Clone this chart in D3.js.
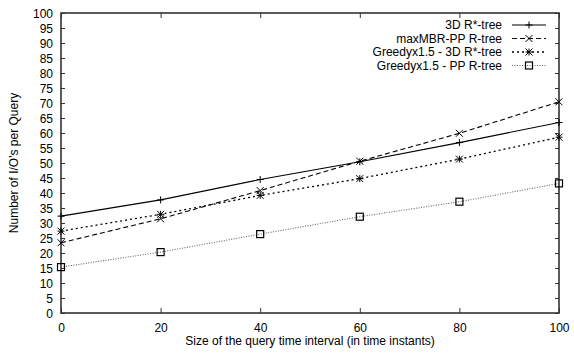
<!DOCTYPE html>
<html><head><meta charset="utf-8">
<script src="https://cdn.jsdelivr.net/npm/d3@7"></script>
<style>body{margin:0;background:#fff}svg{display:block}text{font-family:"Liberation Sans",Arial,sans-serif;font-size:12px;fill:#000}</style>
</head><body><svg id="c" width="574" height="356"></svg>
<script>
const xValues = [0, 20, 40, 60, 80, 100];
const seriesNames = ["3D R*-tree", "maxMBR-PP R-tree", "Greedyx1.5 - 3D R*-tree", "Greedyx1.5 - PP R-tree"];
const rstar3D = [32.3, 37.7, 44.5, 50.4, 56.8, 63.5];
const maxMBR = [23.4, 31.4, 40.8, 50.6, 59.9, 70.4];
const greedy3D = [27.3, 32.9, 39.2, 44.8, 51.3, 58.6];
const greedyPP = [15.3, 20.3, 26.3, 32.1, 37.1, 43.2];
const xTicks = [0, 20, 40, 60, 80, 100];
const yTicks = d3.range(0, 101, 5);
const xLabel = "Size of the query time interval (in time instants)";
const yLabel = "Number of I/O's per Query";

const svg = d3.select("#c");
const L = 61, R = 559, T = 13, B = 313;
const x = d3.scaleLinear().domain([0, 100]).range([L, R]);
const y = d3.scaleLinear().domain([0, 100]).range([B, T]);

const styles = [
  {dash: null, color: "#000", w: 1.1, marker: "plus"},
  {dash: "5,3", color: "#000", w: 1.1, marker: "cross"},
  {dash: "2,3", color: "#000", w: 1.3, marker: "star"},
  {dash: "1,1.5", color: "#666", w: 1.1, marker: "square"}
];
const data = [rstar3D, maxMBR, greedy3D, greedyPP];

const axCol = "#333";
const gl = svg.append("g").attr("transform", `translate(${L},0)`)
  .call(d3.axisLeft(y).tickValues(yTicks).tickSizeInner(-4).tickSizeOuter(0).tickPadding(8));
const gr = svg.append("g").attr("transform", `translate(${R},0)`)
  .call(d3.axisRight(y).tickValues(yTicks).tickSizeInner(-4).tickSizeOuter(0).tickFormat(""));
const gb = svg.append("g").attr("transform", `translate(0,${B})`)
  .call(d3.axisBottom(x).tickValues(xTicks).tickSizeInner(-5).tickSizeOuter(0).tickPadding(10));
const gt = svg.append("g").attr("transform", `translate(0,${T})`)
  .call(d3.axisTop(x).tickValues(xTicks).tickSizeInner(-5).tickSizeOuter(0).tickFormat(""));
[gl, gr, gb, gt].forEach(g => {
  g.select(".domain").remove();
  g.selectAll(".tick line").attr("stroke", axCol).attr("stroke-width", 1);
  g.selectAll("text").attr("font-family", "Liberation Sans, Arial, sans-serif").attr("font-size", 12).attr("fill", "#000");
});
gl.selectAll("text").attr("dy", "0.35em");

svg.append("rect").attr("x", L).attr("y", T).attr("width", R - L).attr("height", B - T)
  .attr("fill", "none").attr("stroke", axCol).attr("stroke-width", 1.6);

function drawMarker(g, type, cx, cy, color) {
  const s = 3.5;
  const p = g.append("g").attr("stroke", color).attr("stroke-width", 1).attr("fill", "none");
  if (type === "plus" || type === "star") {
    p.append("line").attr("x1", cx - s).attr("x2", cx + s).attr("y1", cy).attr("y2", cy);
    p.append("line").attr("x1", cx).attr("x2", cx).attr("y1", cy - s).attr("y2", cy + s);
  }
  if (type === "cross" || type === "star") {
    p.append("line").attr("x1", cx - s).attr("x2", cx + s).attr("y1", cy - s).attr("y2", cy + s);
    p.append("line").attr("x1", cx - s).attr("x2", cx + s).attr("y1", cy + s).attr("y2", cy - s);
  }
  if (type === "square") {
    p.attr("stroke", "#000").attr("stroke-width", 1.2);
    p.append("rect").attr("x", cx - 3.5).attr("y", cy - 3.5).attr("width", 7).attr("height", 7);
  }
}

const line = d3.line().x((d, i) => x(xValues[i])).y(d => y(d));
data.forEach((vals, k) => {
  const st = styles[k];
  const g = svg.append("g");
  g.append("path").attr("d", line(vals)).attr("fill", "none").attr("stroke", st.color)
    .attr("stroke-width", st.w).attr("stroke-dasharray", st.dash);
  vals.forEach((v, i) => drawMarker(g, st.marker, x(xValues[i]), y(v), "#000"));
});

const lg = svg.append("g");
seriesNames.forEach((name, k) => {
  const st = styles[k];
  const ly = 25 + k * 13.5;
  lg.append("text").attr("x", 502).attr("y", ly).attr("dy", "0.35em").attr("text-anchor", "end").text(name);
  lg.append("line").attr("x1", 512).attr("x2", 546).attr("y1", ly).attr("y2", ly)
    .attr("stroke", st.color).attr("stroke-width", st.w).attr("stroke-dasharray", st.dash);
  drawMarker(lg, st.marker, 529, ly, "#000");
});

svg.append("text").attr("x", (L + R) / 2).attr("y", 345).attr("text-anchor", "middle").text(xLabel);
svg.append("text").attr("transform", `translate(18,${(T + B) / 2}) rotate(-90)`).attr("text-anchor", "middle").text(yLabel);
</script></body></html>
